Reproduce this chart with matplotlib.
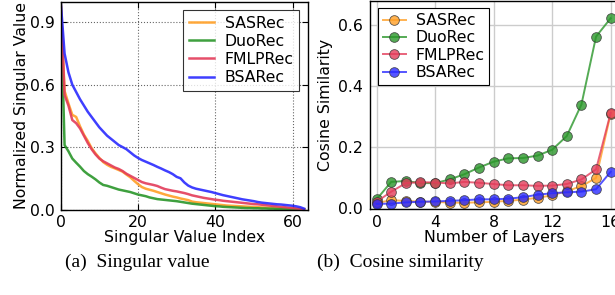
import matplotlib
matplotlib.use("Agg")
import matplotlib.pyplot as plt
import numpy as np

# ---------------- data ----------------
models = ["SASRec", "DuoRec", "FMLPRec", "BSARec"]
colors = ["#ff9f26", "#2a962a", "#e33c5a", "#2a2aff"]

sv_index = list(range(64))
sv_sasrec = [1.0, 0.57, 0.51, 0.455, 0.445, 0.4, 0.36, 0.33, 0.295, 0.27,
             0.248, 0.228, 0.215, 0.205, 0.198, 0.19, 0.182, 0.168, 0.155, 0.138,
             0.122, 0.108, 0.1, 0.095, 0.09, 0.084, 0.078, 0.072, 0.067, 0.062,
             0.058, 0.053, 0.049, 0.045, 0.038, 0.035, 0.033, 0.031, 0.029, 0.027,
             0.025, 0.023, 0.021, 0.019, 0.018, 0.017, 0.016, 0.015, 0.014, 0.013,
             0.012, 0.011, 0.01, 0.009, 0.009, 0.008, 0.007, 0.006, 0.005, 0.005,
             0.004, 0.003, 0.002, 0.001]
sv_duorec = [1.0, 0.31, 0.28, 0.245, 0.225, 0.206, 0.185, 0.17, 0.158, 0.145,
             0.13, 0.118, 0.114, 0.108, 0.102, 0.096, 0.092, 0.088, 0.084, 0.078,
             0.072, 0.068, 0.064, 0.058, 0.054, 0.05, 0.048, 0.046, 0.044, 0.042,
             0.04, 0.037, 0.034, 0.031, 0.028, 0.026, 0.024, 0.022, 0.02, 0.018,
             0.016, 0.015, 0.013, 0.012, 0.011, 0.01, 0.009, 0.008, 0.007, 0.007,
             0.006, 0.006, 0.005, 0.005, 0.004, 0.004, 0.003, 0.003, 0.002, 0.002,
             0.002, 0.001, 0.001, 0.0]
sv_fmlprec = [1.0, 0.55, 0.5, 0.43, 0.415, 0.39, 0.355, 0.32, 0.29, 0.265,
              0.245, 0.232, 0.222, 0.212, 0.202, 0.195, 0.185, 0.172, 0.162, 0.152,
              0.142, 0.132, 0.126, 0.122, 0.118, 0.113, 0.105, 0.098, 0.094, 0.09,
              0.087, 0.083, 0.079, 0.074, 0.068, 0.064, 0.06, 0.056, 0.053, 0.05,
              0.047, 0.045, 0.042, 0.04, 0.038, 0.036, 0.034, 0.032, 0.03, 0.028,
              0.026, 0.025, 0.023, 0.021, 0.019, 0.017, 0.015, 0.013, 0.011, 0.009,
              0.007, 0.005, 0.003, 0.001]
sv_bsarec = [1.0, 0.75, 0.66, 0.6, 0.565, 0.53, 0.5, 0.47, 0.445, 0.42,
             0.395, 0.375, 0.355, 0.34, 0.325, 0.31, 0.3, 0.29, 0.275, 0.26,
             0.248, 0.238, 0.23, 0.222, 0.214, 0.205, 0.197, 0.188, 0.18, 0.17,
             0.157, 0.15, 0.13, 0.115, 0.106, 0.1, 0.096, 0.092, 0.088, 0.084,
             0.079, 0.074, 0.069, 0.065, 0.061, 0.057, 0.053, 0.049, 0.046, 0.043,
             0.04, 0.036, 0.033, 0.031, 0.029, 0.027, 0.025, 0.024, 0.022, 0.02,
             0.018, 0.015, 0.011, 0.004]

layers = list(range(17))
cos_sasrec = [0.018, 0.027, 0.025, 0.022, 0.022, 0.019, 0.019, 0.02, 0.022, 0.025,
              0.029, 0.035, 0.043, 0.057, 0.073, 0.1, 0.31]
cos_duorec = [0.03, 0.087, 0.09, 0.083, 0.083, 0.095, 0.112, 0.134, 0.153, 0.164,
              0.165, 0.173, 0.192, 0.237, 0.34, 0.562, 0.622]
cos_fmlprec = [0.022, 0.055, 0.083, 0.086, 0.085, 0.082, 0.087, 0.084, 0.08, 0.076,
               0.076, 0.074, 0.075, 0.08, 0.095, 0.128, 0.313]
cos_bsarec = [0.015, 0.016, 0.02, 0.022, 0.023, 0.025, 0.027, 0.03, 0.03, 0.032,
              0.037, 0.045, 0.05, 0.053, 0.055, 0.063, 0.12]

sv_series = [sv_sasrec, sv_duorec, sv_fmlprec, sv_bsarec]
cos_series = [cos_sasrec, cos_duorec, cos_fmlprec, cos_bsarec]

# ---------------- figure ----------------
plt.rcParams['font.family'] = ['DejaVu Sans']
W, H = 615, 295
fig = plt.figure(figsize=(W / 100, H / 100), dpi=100)
FS = 11.3

# left panel (classic style)
ax1 = fig.add_axes([60.7 / W, 1 - 209.5 / H, (308 - 60.7) / W, (209.5 - 1.5) / H])
for s, c, m in zip(sv_series, colors, models):
    ax1.plot(sv_index, s, color=c, lw=1.8, label=m, alpha=0.9)
ax1.set_xlim(0, 64)
ax1.set_ylim(0, 1.0)
ax1.set_xticks([0, 20, 40, 60])
ax1.set_yticks([0.0, 0.3, 0.6, 0.9])
ax1.set_yticklabels(["0.0", "0.3", "0.6", "0.9"])
ax1.grid(True, color="black", linestyle=":", linewidth=0.8, alpha=0.6)
ax1.tick_params(direction="in", length=4, width=0.8, labelsize=FS, top=True, right=True, pad=4)
for sp in ax1.spines.values():
    sp.set_linewidth(1.0)
ax1.set_xlabel("Singular Value Index", fontsize=FS, labelpad=0)
ax1.set_ylabel("Normalized Singular Value", fontsize=FS, labelpad=1)
leg1 = ax1.legend(loc="upper right", fontsize=FS, frameon=True, fancybox=False,
                  edgecolor="black", handlelength=1.6, borderpad=0.35,
                  labelspacing=0.2, handletextpad=0.7, borderaxespad=0.55)
leg1.get_frame().set_linewidth(0.8)

# right panel
ax2 = fig.add_axes([370 / W, 1 - 208.5 / H, 248 / W, 208 / H])
for s, c, m in zip(cos_series, colors, models):
    ax2.plot(layers, s, color=c, lw=1.4, marker="o", markersize=7,
             markeredgecolor="#333333", markeredgewidth=0.6, alpha=0.8, label=m)
ax2.set_xlim(-0.45, 16.5)
ax2.set_ylim(0, 0.68)
ax2.set_xticks([0, 4, 8, 12, 16])
ax2.set_yticks([0.0, 0.2, 0.4, 0.6])
ax2.grid(True, color="#cccccc", linestyle="-", linewidth=1.0)
ax2.set_axisbelow(True)
ax2.tick_params(length=0, labelsize=FS, pad=5)
for sp in ax2.spines.values():
    sp.set_linewidth(1.0)
ax2.set_xlabel("Number of Layers", fontsize=FS, labelpad=0)
ax2.set_ylabel("Cosine Similarity", fontsize=FS, labelpad=4)
leg2 = ax2.legend(loc="upper left", fontsize=FS, frameon=True, fancybox=False,
                  edgecolor="black", handlelength=1.5, borderpad=0.3,
                  labelspacing=0.15, handletextpad=0.6, borderaxespad=0.5,
                  framealpha=1)
leg2.get_frame().set_linewidth(0.8)

# captions
fig.text(137 / W, 1 - 262 / H, "(a)  Singular value", ha="center", va="center",
         fontsize=14, family=["Liberation Serif"])
fig.text(400 / W, 1 - 262 / H, "(b)  Cosine similarity", ha="center", va="center",
         fontsize=14, family=["Liberation Serif"])

fig.savefig("out.png", dpi=100)
